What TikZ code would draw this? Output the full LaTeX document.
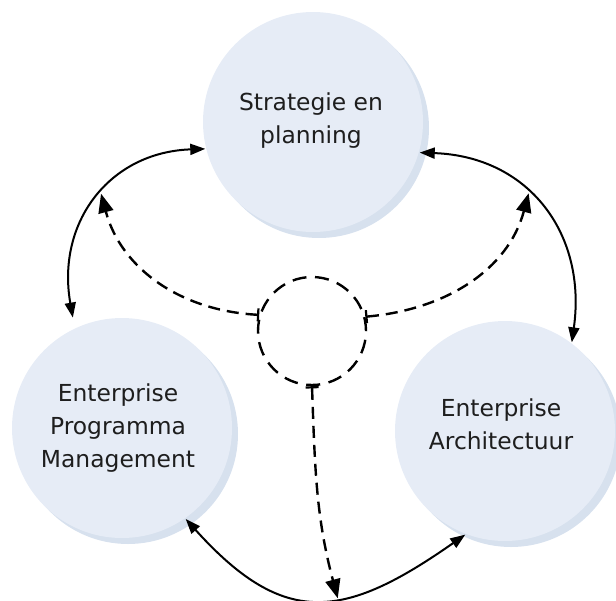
\documentclass[tikz,border=0pt]{standalone}
\usepackage{fontspec}
\setmainfont{DejaVu Sans}
\usetikzlibrary{arrows.meta}
\definecolor{circfill}{HTML}{E6ECF6}
\definecolor{circshade}{HTML}{D7E1EE}
\definecolor{txt}{HTML}{1E1E1E}
\begin{document}
\begin{tikzpicture}[x=1pt,y=1pt,
  topic/.style={circle, fill=circfill, minimum size=220pt, inner sep=0pt, outer sep=1pt},
  topictext/.style={align=center, font=\fontsize{23.4pt}{33pt}\selectfont, text=txt, inner sep=0pt},
  shadowfill/.style={fill=circshade},
  link/.style={line width=2pt, {Triangle[length=15pt,width=11pt]}-{Triangle[length=15pt,width=11pt]}},
  flow/.style={line width=2.4pt, dash pattern=on 12pt off 7pt, {Bar[width=13pt,line width=2.2pt]}-{Triangle[length=19pt,width=15pt]}},
  hubstyle/.style={circle, draw, line width=2.4pt, dash pattern=on 14pt off 8.6pt, minimum size=108pt, inner sep=0pt},
]
\useasboundingbox (0,0) rectangle (616,-600);
% shadows
\fill[shadowfill] (319,-128) circle (110);
\fill[shadowfill] (128,-434) circle (110);
\fill[shadowfill] (511,-437) circle (110);
% circles
\node[topic] (top) at (313,-122) {};
\node[topic] (left) at (122,-428) {};
\node[topic] (right) at (505,-431) {};
% texts
\node[topictext] (toptext) at (311,-121) {Strategie en\\planning};
\node[topictext] (lefttext) at (118,-428) {Enterprise\\Programma\\Management};
\node[topictext] (righttext) at (501,-424) {Enterprise\\Architectuur};
% hub
\node[hubstyle] (hub) at (312,-331) {};
% solid arcs
\draw[link] (top.194) to[out=182,in=100,looseness=1.15] coordinate[pos=0.47] (pl) ([xshift=-4pt,yshift=9pt]left.114);
\draw[link] (top.344) to[out=-2,in=82,looseness=1.15] coordinate[pos=0.42] (pr) (right.53);
\draw[link] (left.305) to[out=-48,in=215,looseness=1.35] coordinate[pos=0.58] (pb) (right.249);
% dashed flows
\draw[flow] (hub.163) to[out=177,in=-75] (pl);
\draw[flow] (hub.15) to[out=5,in=-105] (pr);
\draw[flow] (hub.270) to[out=-88,in=105] (pb);
\end{tikzpicture}
\end{document}
